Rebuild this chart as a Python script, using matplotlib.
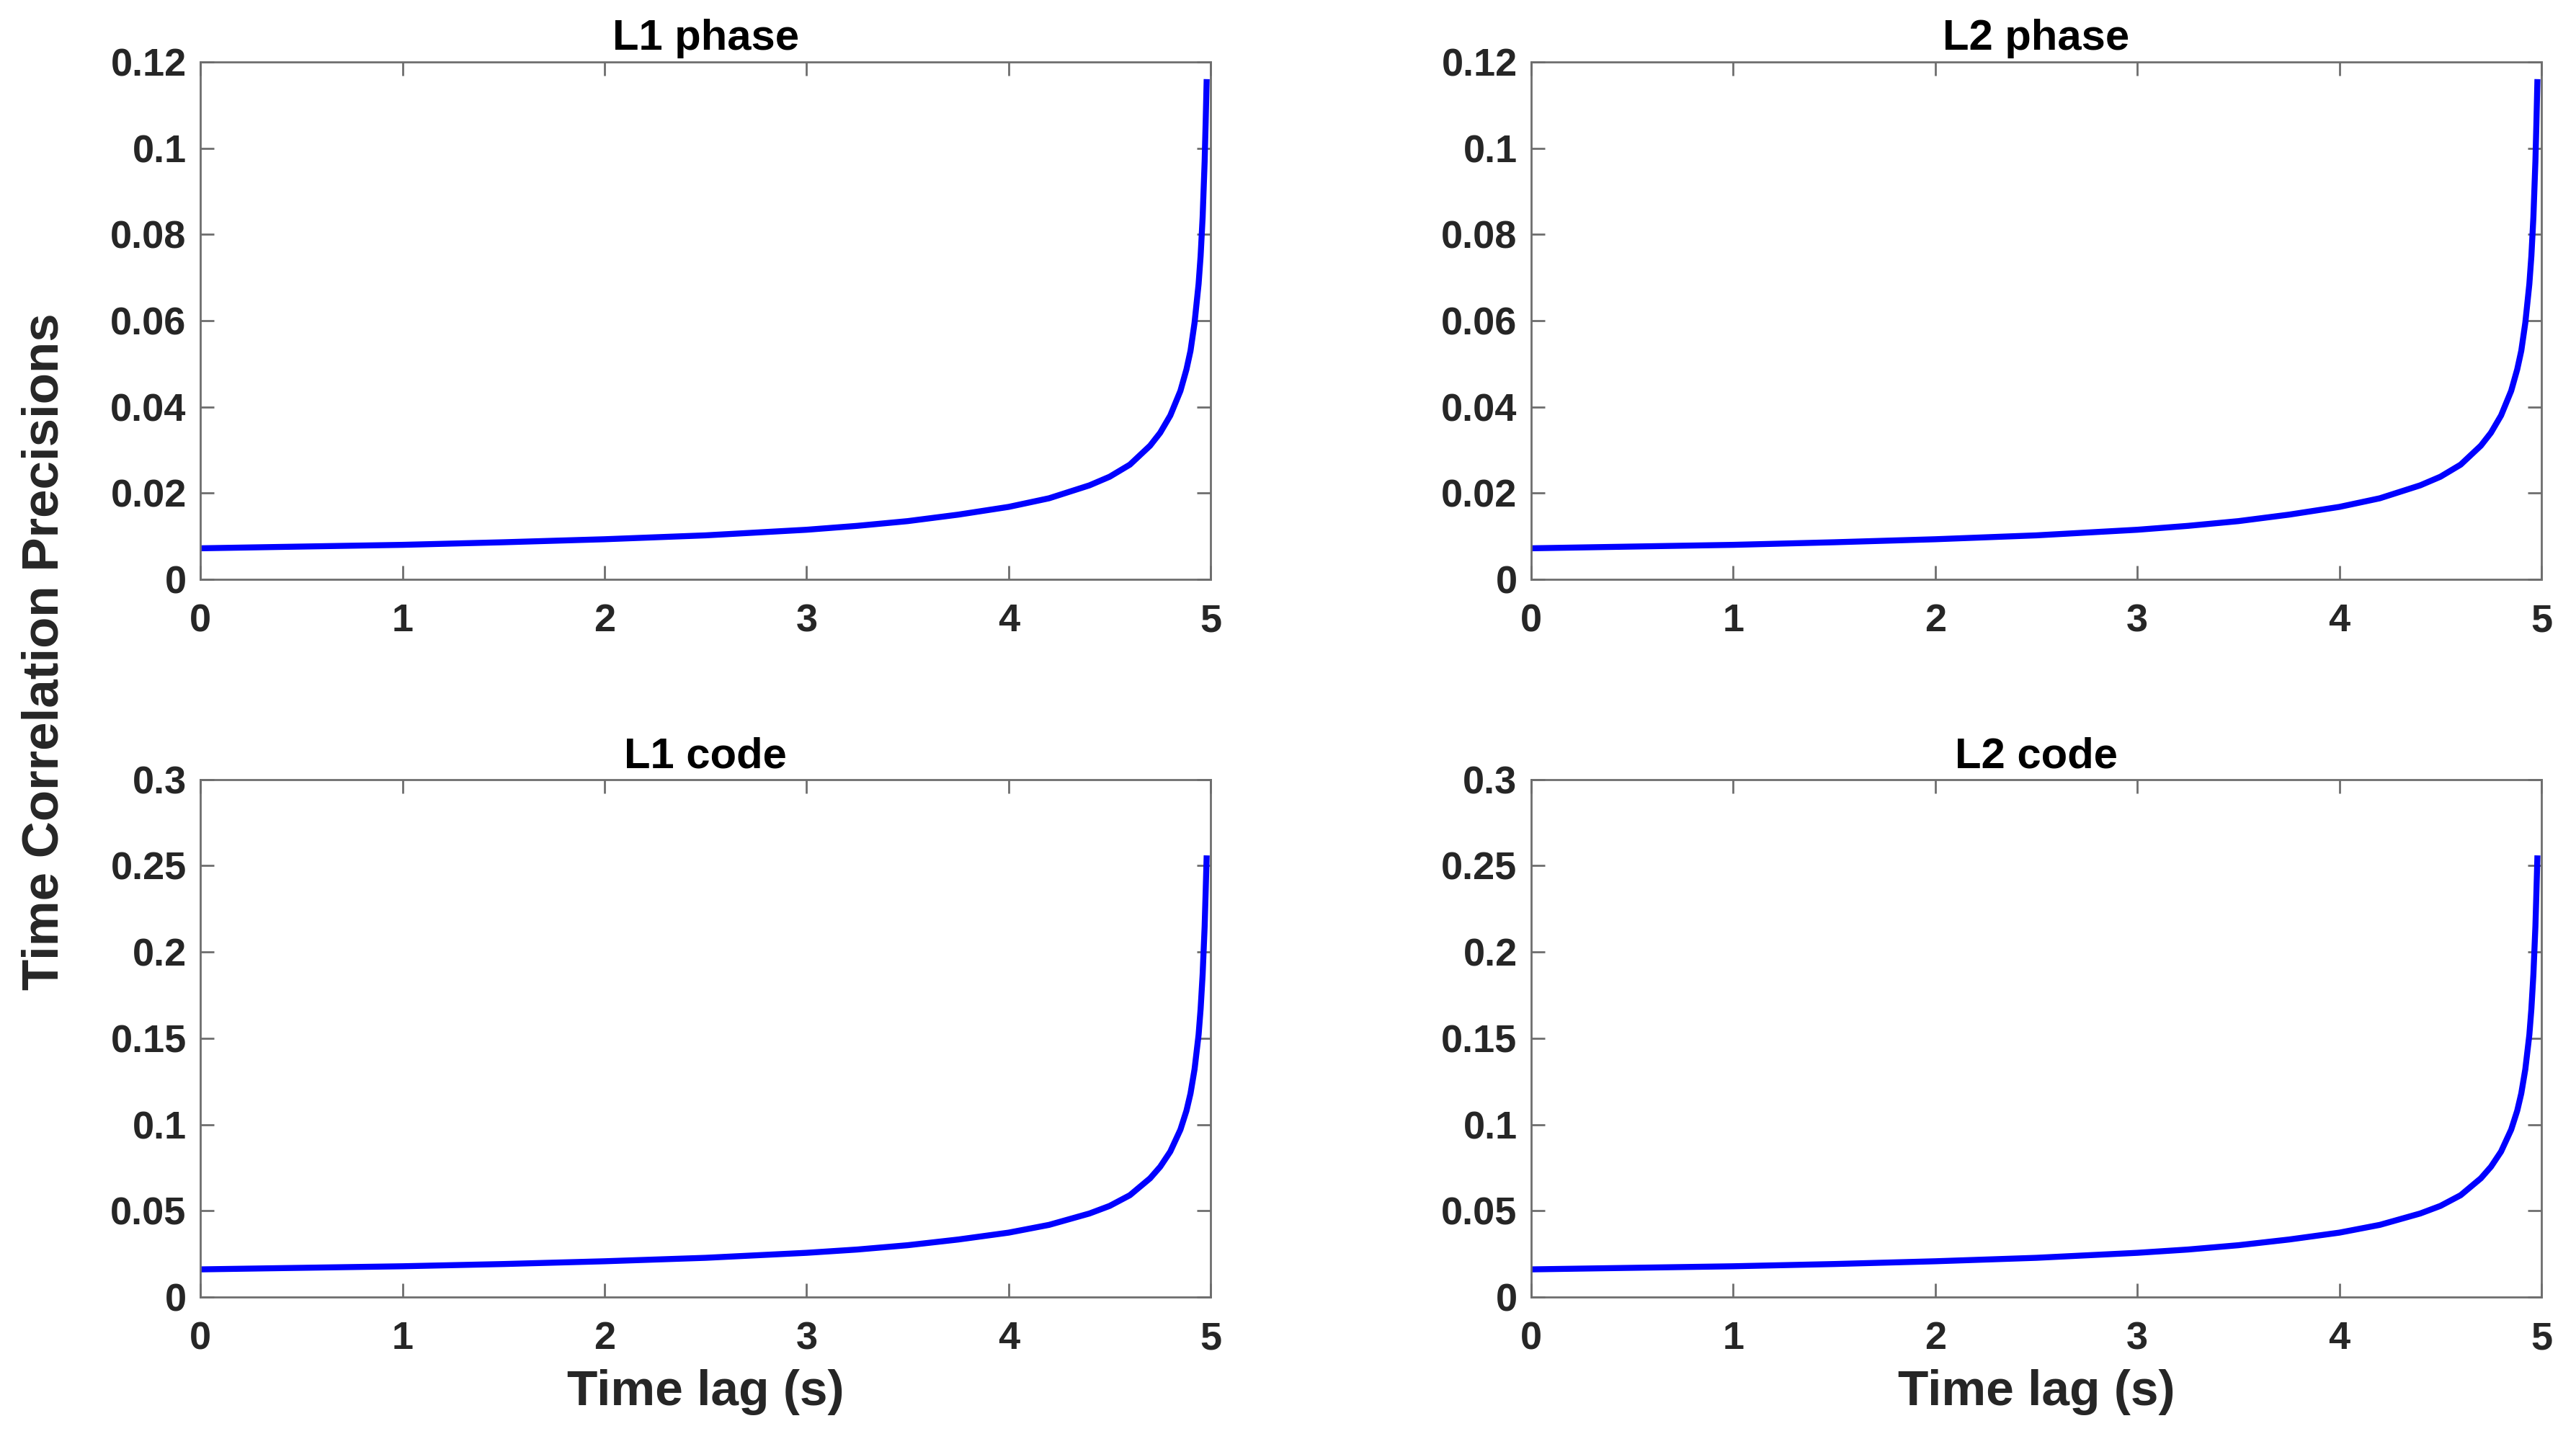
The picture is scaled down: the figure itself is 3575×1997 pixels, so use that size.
import matplotlib
matplotlib.use("Agg")
import matplotlib.pyplot as plt

# values
time_lag = [0, 0.5, 1, 1.5, 2, 2.5, 3, 3.25, 3.5, 3.75, 4, 4.2, 4.4, 4.5, 4.6,
            4.7, 4.75, 4.8, 4.85, 4.88, 4.9, 4.92, 4.94, 4.95, 4.96, 4.97, 4.975, 4.98]

l1_phase = [0.0072, 0.0076, 0.0080, 0.0086, 0.0093, 0.0102, 0.0115, 0.0124, 0.0135,
            0.0150, 0.0168, 0.0188, 0.0218, 0.0238, 0.0266, 0.0310, 0.0340, 0.0380,
            0.0437, 0.0487, 0.0530, 0.0595, 0.0685, 0.0750, 0.0840, 0.0970, 0.1060, 0.1160]
l2_phase = [0.0072, 0.0076, 0.0080, 0.0086, 0.0093, 0.0102, 0.0115, 0.0124, 0.0135,
            0.0150, 0.0168, 0.0188, 0.0218, 0.0238, 0.0266, 0.0310, 0.0340, 0.0380,
            0.0437, 0.0487, 0.0530, 0.0595, 0.0685, 0.0750, 0.0840, 0.0970, 0.1060, 0.1160]
l1_code = [0.0160, 0.0169, 0.0178, 0.0191, 0.0207, 0.0227, 0.0256, 0.0275, 0.0300,
           0.0333, 0.0373, 0.0418, 0.0484, 0.0528, 0.0590, 0.0688, 0.0755, 0.0843,
           0.0970, 0.1080, 0.1180, 0.1320, 0.1520, 0.1670, 0.1870, 0.2150, 0.2350, 0.2560]
l2_code = [0.0160, 0.0169, 0.0178, 0.0191, 0.0207, 0.0227, 0.0256, 0.0275, 0.0300,
           0.0333, 0.0373, 0.0418, 0.0484, 0.0528, 0.0590, 0.0688, 0.0755, 0.0843,
           0.0970, 0.1080, 0.1180, 0.1320, 0.1520, 0.1670, 0.1870, 0.2150, 0.2350, 0.2560]

titles = ["L1 phase", "L2 phase", "L1 code", "L2 code"]
series = [l1_phase, l2_phase, l1_code, l2_code]

phase_ticks = [0, 0.02, 0.04, 0.06, 0.08, 0.1, 0.12]
phase_labels = ["0", "0.02", "0.04", "0.06", "0.08", "0.1", "0.12"]
code_ticks = [0, 0.05, 0.1, 0.15, 0.2, 0.25, 0.3]
code_labels = ["0", "0.05", "0.1", "0.15", "0.2", "0.25", "0.3"]
x_ticks = [0, 1, 2, 3, 4, 5]

plt.rcParams['font.family'] = ['Liberation Sans', 'DejaVu Sans']
plt.rcParams['font.weight'] = 'bold'

fig = plt.figure(figsize=(35.75, 19.97), dpi=100)

lefts = [0.0778, 0.5944]
bottoms = [0.5974, 0.0987]
w, h = 0.3922, 0.3596

text_col = "#262626"
frame_col = "#6e6e6e"

for i in range(4):
    row, col = divmod(i, 2)
    ax = fig.add_axes([lefts[col], bottoms[row], w, h])
    ax.plot(time_lag, series[i], color=(0, 0, 1), linewidth=6, solid_capstyle="butt")
    ax.set_xlim(0, 5)
    if row == 0:
        ax.set_ylim(0, 0.12)
        ax.set_yticks(phase_ticks)
        ax.set_yticklabels(phase_labels)
    else:
        ax.set_ylim(0, 0.3)
        ax.set_yticks(code_ticks)
        ax.set_yticklabels(code_labels)
        ax.set_xlabel("Time lag (s)", fontsize=50, fontweight="bold", color=text_col, labelpad=12)
    ax.set_xticks(x_ticks)
    ax.set_title(titles[i], fontsize=43, fontweight="bold", color="black", pad=12)
    ax.tick_params(direction="in", length=14, width=2, colors=frame_col,
                   labelcolor=text_col, labelsize=39, top=True, right=True, pad=14)
    ax.tick_params(axis="x", pad=24)
    for sp in ax.spines.values():
        sp.set_color(frame_col)
        sp.set_linewidth(2)
    for lab in ax.get_xticklabels() + ax.get_yticklabels():
        lab.set_fontweight("bold")

fig.text(0.0175, 0.547, "Time Correlation Precisions", rotation=90, fontsize=51,
         fontweight="bold", color=text_col, ha="center", va="center")

fig.savefig("out.png", dpi=100, facecolor="white")
